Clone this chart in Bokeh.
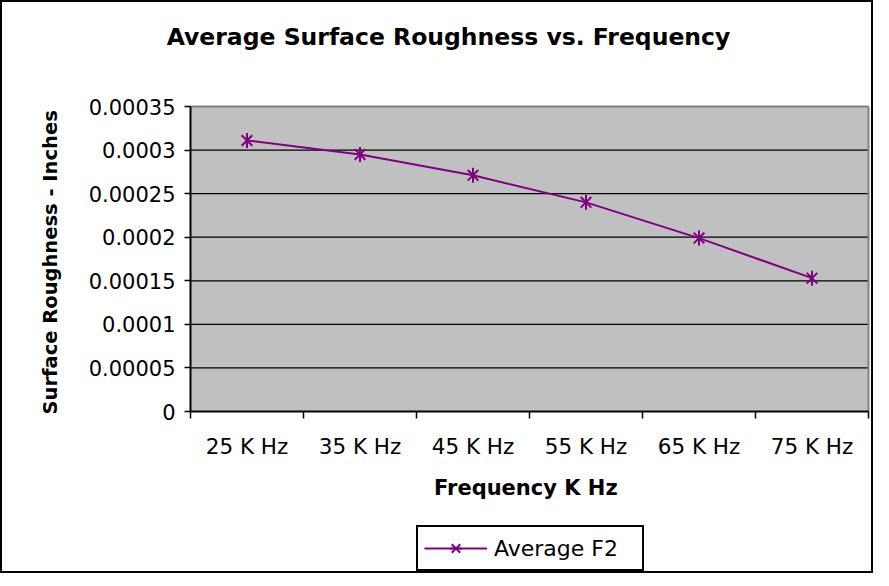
import math
from bokeh.plotting import figure
from bokeh.models import (FixedTicker, Legend, LegendItem, Range1d, Label, BoxAnnotation)
from bokeh.embed import file_html
from bokeh.resources import INLINE

# ---- data ----
categories = ["25 K Hz", "35 K Hz", "45 K Hz", "55 K Hz", "65 K Hz", "75 K Hz"]
roughness = [0.000311, 0.000295, 0.000271, 0.000240, 0.000199, 0.000153]
y_ticks = [0.0, 0.00005, 0.0001, 0.00015, 0.0002, 0.00025, 0.0003, 0.00035]
y_tick_labels = ["0", "0.00005", "0.0001", "0.00015", "0.0002", "0.00025", "0.0003", "0.00035"]
series_name = "Average F2"
title_text = "Average Surface Roughness vs. Frequency"
x_title = "Frequency  K Hz"
y_title = "Surface Roughness -  Inches"

FONT = "DejaVu Sans"
PURPLE = "#800080"

# ---- layout (pixels inside the canvas) ----
W, H = 873, 573
PLOT_L, PLOT_R, PLOT_T, PLOT_B = 188, 866, 104, 409
TITLE_CX, TITLE_CY = 446, 34
LEGEND_LOC = (414, 4)

n = len(categories)
y_max = y_ticks[-1]
x_pos = [i + 0.5 for i in range(n)]
x_bounds = [float(i) for i in range(n + 1)]

xpp = n / (PLOT_R - PLOT_L)          # data units per pixel
ypp = y_max / (PLOT_B - PLOT_T)

p = figure(
    width=W, height=H,
    x_range=Range1d(-PLOT_L * xpp, n + (W - PLOT_R) * xpp),
    y_range=Range1d(-(H - PLOT_B) * ypp, y_max + PLOT_T * ypp),
    output_backend="svg", toolbar_location=None,
    min_border=0, min_border_left=0, min_border_right=0,
    min_border_top=0, min_border_bottom=0,
)
p.styles = {"border": "2px solid black"}
p.background_fill_color = "white"
p.border_fill_color = "white"
p.outline_line_color = None
p.xgrid.visible = False
p.ygrid.visible = False

# gray plot area
p.add_layout(BoxAnnotation(left=0, right=n, bottom=0, top=y_max,
                           fill_color="#C0C0C0", fill_alpha=1, line_color=None,
                           level="image"))

# horizontal grid lines at inner ticks
inner = y_ticks[1:-1]
p.segment(x0=[0] * len(inner), y0=inner, x1=[n] * len(inner), y1=inner,
          line_color="black", line_width=1.2)
# gray top and right edges of plot area
p.segment(x0=[0, n], y0=[y_max, 0], x1=[n, n], y1=[y_max, y_max],
          line_color="#808080", line_width=2)

# title
p.add_layout(Label(x=(TITLE_CX - PLOT_L) * xpp, y=y_max + (PLOT_T - TITLE_CY) * ypp,
                   text=title_text, text_font=FONT, text_font_size="23.5px",
                   text_font_style="bold", text_color="black",
                   text_align="center", text_baseline="middle"))

# x axis
xa = p.xaxis[0]
xa.fixed_location = 0
xa.bounds = (0, n)
xa.ticker = FixedTicker(ticks=x_pos, minor_ticks=x_bounds)
xa.major_label_overrides = {x: c for x, c in zip(x_pos, categories)}
xa.major_tick_out = 0
xa.major_tick_in = 0
xa.minor_tick_out = 7
xa.minor_tick_in = 0
xa.minor_tick_line_color = "black"
xa.minor_tick_line_width = 1.5
xa.axis_line_color = "black"
xa.axis_line_width = 2
xa.major_label_text_font = FONT
xa.major_label_text_font_size = "21.5px"
xa.major_label_text_color = "black"
xa.major_label_standoff = 15
xa.axis_label = x_title
xa.axis_label_text_font = FONT
xa.axis_label_text_font_size = "21px"
xa.axis_label_text_font_style = "bold"
xa.axis_label_text_color = "black"
xa.axis_label_standoff = 14

# y axis
ya = p.yaxis[0]
ya.fixed_location = 0
ya.bounds = (0, y_max)
ya.ticker = FixedTicker(ticks=y_ticks)
ya.major_label_overrides = {v: s for v, s in zip(y_ticks, y_tick_labels)}
ya.major_tick_out = 6
ya.major_tick_in = 0
ya.major_tick_line_color = "black"
ya.major_tick_line_width = 1.5
ya.minor_tick_out = 0
ya.minor_tick_in = 0
ya.axis_line_color = "black"
ya.axis_line_width = 2
ya.major_label_text_font = FONT
ya.major_label_text_font_size = "21px"
ya.major_label_text_color = "black"
ya.major_label_standoff = 9
ya.axis_label = y_title
ya.axis_label_text_font = FONT
ya.axis_label_text_font_size = "19.5px"
ya.axis_label_text_font_style = "bold"
ya.axis_label_text_color = "black"
ya.axis_label_standoff = 24

# series
line_r = p.line(x_pos, roughness, line_color=PURPLE, line_width=2)
x_r = p.scatter(x_pos, roughness, marker="x", size=15, line_color=PURPLE, line_width=2)
v_r = p.scatter(x_pos, roughness, marker="dash", angle=math.pi / 2, size=15,
                line_color=PURPLE, line_width=2)

legend = Legend(
    items=[LegendItem(label=series_name, renderers=[line_r, x_r, v_r])],
    location=LEGEND_LOC,
    border_line_color="black", border_line_width=2, border_line_alpha=1,
    background_fill_color="white", background_fill_alpha=1,
    label_text_font=FONT, label_text_font_size="22px", label_text_color="black",
    glyph_width=63, glyph_height=30, padding=6, label_standoff=7, label_width=142,
    margin=0, spacing=0,
)
p.add_layout(legend, "center")

open("out.html", "w").write(file_html(p, INLINE))
